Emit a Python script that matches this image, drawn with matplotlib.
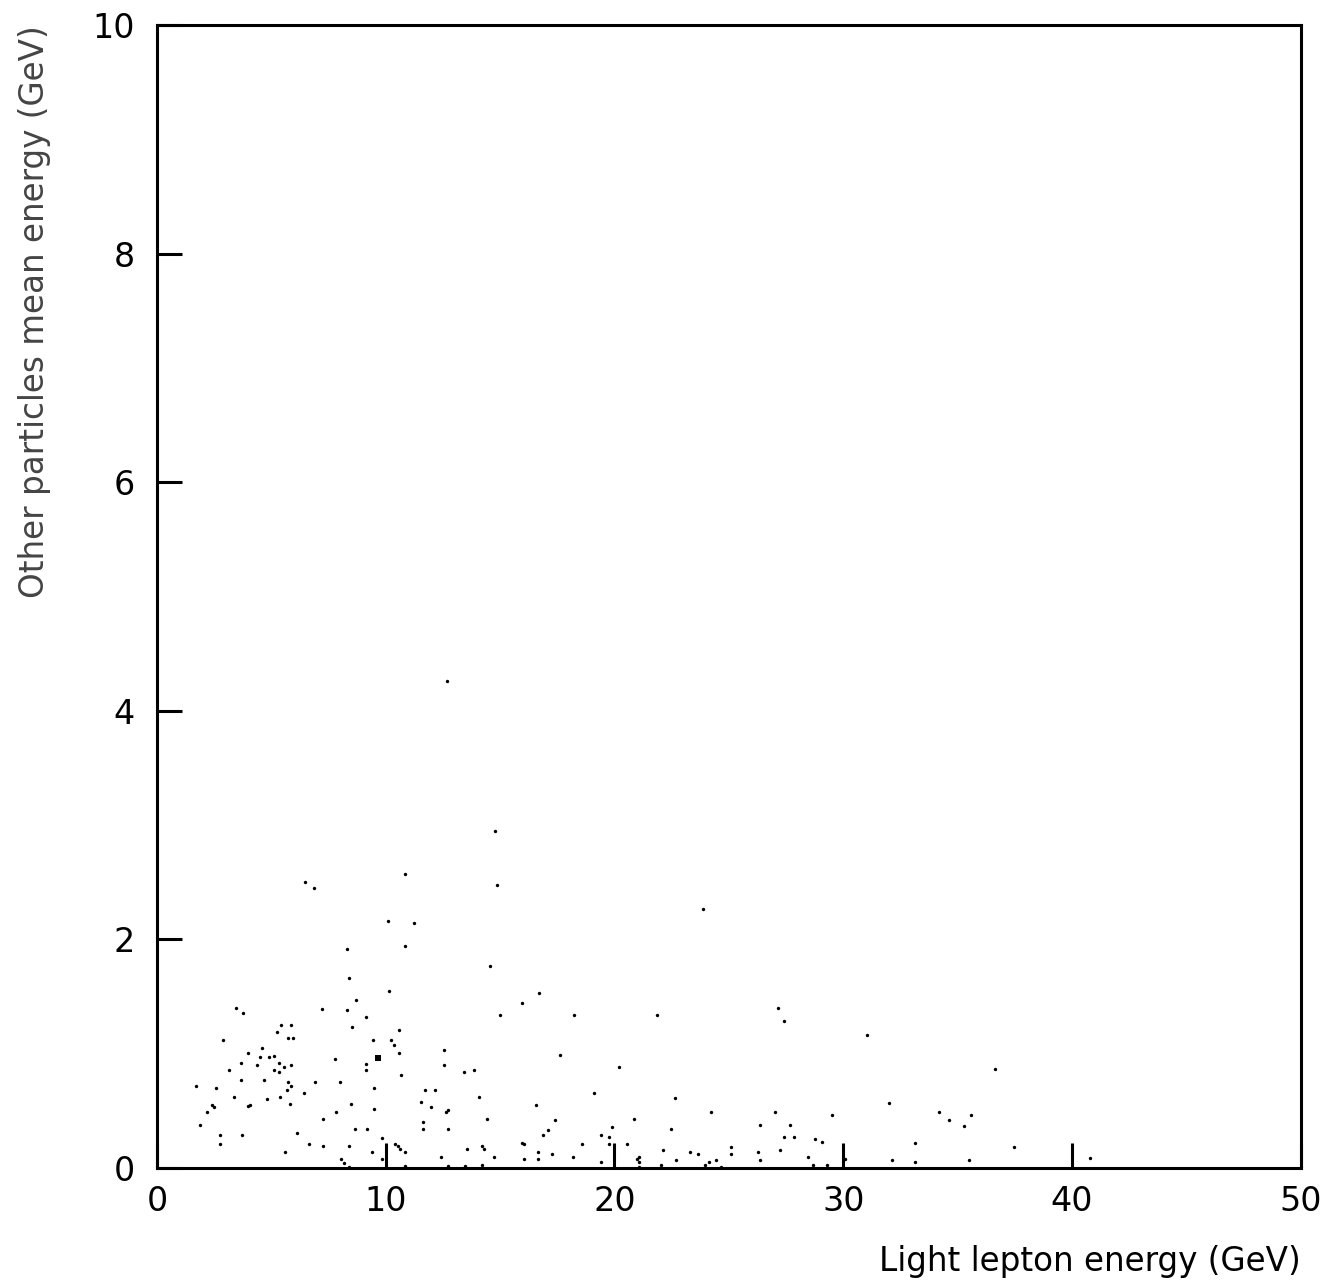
import matplotlib
matplotlib.use('Agg')
import matplotlib.pyplot as plt
import numpy as np

# light lepton energy (GeV) vs mean energy of the other particles (GeV)
lepton_e = [
    6.46, 6.87, 10.84, 14.86, 10.12, 11.25, 10.86, 8.31, 14.56, 8.41,
    10.13, 16.71, 15.98, 8.72, 3.45, 3.77, 7.23, 8.31, 14.98, 9.13,
    5.43, 5.87, 5.23, 8.53, 10.58, 5.75, 5.95, 2.90, 9.45, 10.25,
    10.37, 4.59, 3.97, 10.58, 4.50, 4.90, 5.11, 7.79, 12.56, 3.67,
    4.38, 5.34, 5.87, 5.55, 9.14, 9.14, 12.56, 3.14, 5.11, 5.33,
    13.44, 13.84, 10.68, 1.73, 2.59, 3.67, 4.70, 5.75, 5.87, 5.69,
    6.93, 8.01, 6.42, 9.48, 11.73, 12.17, 3.39, 4.83, 5.36, 14.08,
    2.39, 2.50, 4.00, 4.05, 5.81, 8.47, 11.53, 11.97, 12.71, 12.62,
    16.55, 2.20, 9.50, 7.83, 7.28, 14.41, 11.63, 1.88, 8.68, 9.17,
    11.64, 12.72, 17.09, 6.11, 16.89, 2.74, 3.71, 2.74, 6.64, 7.28,
    8.38, 9.84, 10.42, 10.54, 10.64, 10.83, 5.58, 9.39, 8.05, 8.18,
    8.38, 9.84, 10.84, 12.40, 12.74, 13.48, 13.57, 14.21, 14.31, 14.73,
    14.21, 15.95, 16.05, 16.05, 16.68, 16.68,
    12.66, 14.80,
    23.86, 18.24, 21.88, 27.16, 27.39, 31.06, 17.60, 20.19, 19.11, 22.66,
    32.02, 24.22, 27.00, 29.50, 17.39, 20.87, 19.88, 22.46, 26.35, 27.66,
    19.43, 19.78, 27.39, 27.87, 28.76, 29.08, 33.13, 18.60, 19.78, 20.57,
    25.08, 27.22, 22.14, 17.29, 18.18, 23.32, 23.64, 25.08, 26.26, 26.35,
    28.48, 30.09, 32.15, 33.13, 19.43, 21.07, 20.97, 21.07, 22.02, 22.68,
    23.94, 24.15, 24.42, 24.66, 28.67, 29.29, 21.09,
    36.64, 34.18, 34.63, 35.60, 35.28, 37.45, 35.48, 40.79,
]
other_mean_e = [
    2.50, 2.45, 2.57, 2.48, 2.16, 2.14, 1.94, 1.92, 1.77, 1.66,
    1.55, 1.53, 1.44, 1.47, 1.40, 1.36, 1.39, 1.38, 1.34, 1.32,
    1.25, 1.25, 1.19, 1.23, 1.21, 1.14, 1.14, 1.12, 1.12, 1.12,
    1.08, 1.05, 1.01, 1.01, 0.97, 0.97, 0.98, 0.95, 1.03, 0.92,
    0.90, 0.92, 0.90, 0.88, 0.91, 0.86, 0.90, 0.86, 0.86, 0.84,
    0.84, 0.86, 0.81, 0.72, 0.70, 0.77, 0.77, 0.75, 0.72, 0.68,
    0.75, 0.75, 0.66, 0.70, 0.68, 0.68, 0.62, 0.60, 0.62, 0.62,
    0.55, 0.53, 0.54, 0.55, 0.56, 0.56, 0.58, 0.53, 0.51, 0.49,
    0.55, 0.49, 0.52, 0.49, 0.43, 0.43, 0.40, 0.38, 0.34, 0.34,
    0.34, 0.34, 0.33, 0.31, 0.29, 0.29, 0.29, 0.21, 0.21, 0.19,
    0.19, 0.26, 0.21, 0.19, 0.17, 0.14, 0.14, 0.14, 0.08, 0.04,
    0.01, 0.08, 0.02, 0.10, 0.02, 0.02, 0.17, 0.19, 0.17, 0.10,
    0.03, 0.22, 0.21, 0.08, 0.14, 0.08,
    4.26, 2.95,
    2.27, 1.34, 1.34, 1.40, 1.29, 1.16, 0.99, 0.88, 0.66, 0.61,
    0.57, 0.49, 0.49, 0.46, 0.42, 0.43, 0.36, 0.34, 0.38, 0.38,
    0.29, 0.27, 0.27, 0.27, 0.25, 0.23, 0.22, 0.21, 0.21, 0.21,
    0.18, 0.16, 0.16, 0.12, 0.10, 0.14, 0.12, 0.12, 0.14, 0.07,
    0.10, 0.08, 0.07, 0.05, 0.05, 0.10, 0.08, 0.05, 0.03, 0.07,
    0.03, 0.05, 0.07, 0.01, 0.03, 0.03, 0.01,
    0.87, 0.49, 0.42, 0.46, 0.37, 0.18, 0.07, 0.09,
]
# one event drawn with a heavier dot
big_x = [9.67]
big_y = [0.96]

x_ticks = [0, 10, 20, 30, 40, 50]
y_ticks = [0, 2, 4, 6, 8, 10]

fig = plt.figure(figsize=(13.41, 12.81), dpi=100)
ax = fig.add_axes([0.117, 0.0882, 0.853, 0.8923])

ax.scatter(lepton_e, other_mean_e, s=6, marker='o', color='black', linewidths=0)
ax.scatter(big_x, big_y, s=22, marker='s', color='black', linewidths=0)

ax.set_xlim(0, 50)
ax.set_ylim(0, 10)
ax.set_xticks(x_ticks)
ax.set_yticks(y_ticks)

for side in ['top', 'right', 'bottom', 'left']:
    ax.spines[side].set_linewidth(2.2)
ax.tick_params(direction='in', length=18, width=2.2, labelsize=24)
ax.tick_params(axis='y', pad=16)
ax.tick_params(axis='x', pad=12)

ax.set_xlabel('Light lepton energy (GeV)', fontsize=23.5, loc='right', labelpad=20)
ax.set_ylabel('Other particles mean energy (GeV)', fontsize=23.5, loc='top',
              labelpad=30, color='#444444')

fig.savefig('out.png', dpi=100)
